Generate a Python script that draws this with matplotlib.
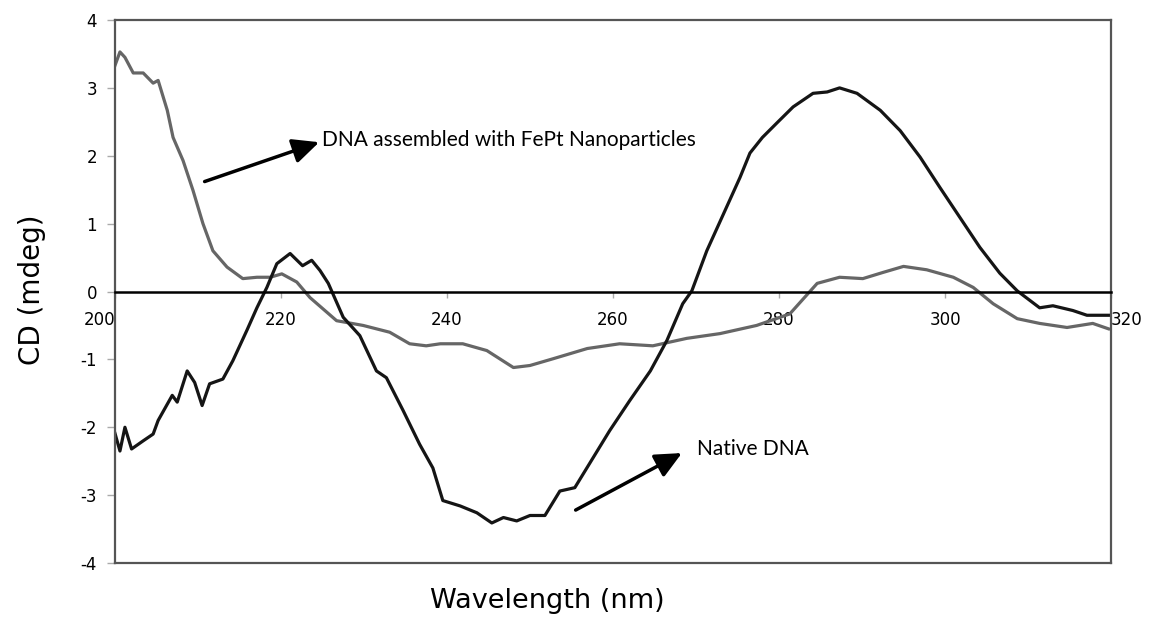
import matplotlib
matplotlib.use("Agg")
import matplotlib.pyplot as plt

plt.rcParams["axes.unicode_minus"] = False

# CD spectra
wl_native = [200.0, 200.6, 201.2, 202.0, 203.4, 204.6, 205.2, 206.9, 207.5, 208.7,
             209.6, 210.5, 211.4, 213.0, 214.2, 215.9, 217.1, 218.3, 219.5, 221.1,
             222.6, 223.7, 224.7, 225.7, 227.5, 229.5, 231.5, 232.7, 234.7, 236.7,
             238.3, 239.5, 241.6, 243.6, 245.4, 246.8, 248.4, 250.0, 251.8, 253.6,
             255.4, 257.6, 259.6, 262.0, 264.5, 266.5, 268.4, 269.5, 271.3, 275.3,
             276.5, 278.0, 279.8, 281.7, 284.1, 285.8, 287.3, 289.4, 292.2, 294.6,
             297.0, 299.4, 301.8, 304.2, 306.6, 308.7, 311.4, 313.0, 315.4, 317.1,
             319.9]
cd_native = [-2.09, -2.35, -2.00, -2.32, -2.20, -2.10, -1.90, -1.53, -1.63, -1.17,
             -1.34, -1.68, -1.36, -1.29, -1.02, -0.57, -0.24, 0.06, 0.41, 0.56,
             0.38, 0.46, 0.31, 0.12, -0.38, -0.65, -1.17, -1.27, -1.75, -2.25,
             -2.60, -3.08, -3.16, -3.26, -3.41, -3.33, -3.38, -3.30, -3.30, -2.94,
             -2.89, -2.45, -2.05, -1.61, -1.17, -0.72, -0.18, 0.01, 0.60, 1.68,
             2.04, 2.27, 2.49, 2.72, 2.92, 2.94, 3.00, 2.92, 2.67, 2.37,
             1.98, 1.53, 1.09, 0.65, 0.27, 0.01, -0.24, -0.21, -0.28, -0.35,
             -0.35]

wl_fept = [200.0, 200.6, 201.2, 202.2, 203.4, 204.6, 205.2, 206.3, 207.0, 208.2,
           209.4, 210.6, 211.8, 213.5, 215.4, 217.1, 218.7, 220.1, 221.9, 223.5,
           226.7, 229.9, 233.1, 235.5, 237.5, 239.2, 241.9, 244.8, 248.0, 250.0,
           252.8, 256.9, 260.8, 264.8, 268.9, 272.9, 277.3, 281.3, 284.6, 287.3,
           290.1, 292.5, 295.0, 297.8, 301.0, 303.4, 305.8, 308.7, 311.4, 314.7,
           317.8, 319.7]
cd_fept = [3.33, 3.53, 3.45, 3.22, 3.22, 3.07, 3.11, 2.67, 2.27, 1.93,
           1.49, 1.00, 0.60, 0.36, 0.19, 0.21, 0.21, 0.26, 0.14, -0.09,
           -0.43, -0.50, -0.60, -0.77, -0.80, -0.77, -0.77, -0.87, -1.12, -1.09,
           -0.99, -0.84, -0.77, -0.80, -0.69, -0.62, -0.50, -0.33, 0.12, 0.21,
           0.19, 0.28, 0.37, 0.32, 0.21, 0.06, -0.18, -0.40, -0.47, -0.53,
           -0.47, -0.55]

x_ticks = [200, 220, 240, 260, 280, 300, 320]
y_ticks = [-4, -3, -2, -1, 0, 1, 2, 3, 4]

fig = plt.figure(figsize=(11.59, 6.18), dpi=100)
ax = fig.add_axes([0.0992, 0.089, 0.8594, 0.8786])

ax.plot(wl_fept, cd_fept, color="#666666", lw=2.3)
ax.plot(wl_native, cd_native, color="#151515", lw=2.3)

ax.set_xlim(200, 320)
ax.set_ylim(-4, 4)

# x axis sits on the zero line, box drawn around the plot
for side in ["left", "top", "right"]:
    ax.spines[side].set_color("#555555")
    ax.spines[side].set_linewidth(1.6)
ax.spines["bottom"].set_position(("data", 0))
ax.spines["bottom"].set_color("black")
ax.spines["bottom"].set_linewidth(1.8)
ax.plot([0, 1], [0, 0], transform=ax.transAxes, color="#555555", lw=1.6,
        clip_on=False)

ax.set_xticks(x_ticks)
ax.set_yticks(y_ticks)
ax.tick_params(axis="x", direction="out", length=4, width=1, color="#aaaaaa",
               pad=10, labelsize=12)
ax.tick_params(axis="y", direction="out", length=6, width=1, color="#aaaaaa",
               pad=7, labelsize=12)
xlabels = ax.get_xticklabels()
xlabels[0].set_ha("right")
xlabels[-1].set_ha("left")

fig.text(32 / 1159, 1 - 290 / 618, "CD (mdeg)", rotation=90, fontsize=20,
         ha="center", va="center")
fig.text(547 / 1159, 1 - 601 / 618, "Wavelength (nm)", fontsize=19.5,
         ha="center", va="center")

arrow = dict(arrowstyle="-|>,head_length=1.6,head_width=0.75", color="black",
             lw=2.5, shrinkA=0, shrinkB=0)
ax.annotate("", xy=(224.6, 2.2), xytext=(210.8, 1.62), arrowprops=arrow)
ax.annotate("", xy=(268.3, -2.38), xytext=(255.5, -3.22), arrowprops=arrow)
ax.text(224.9, 2.23, "DNA assembled with FePt Nanoparticles", fontsize=15,
        family="Lato", ha="left", va="center")
ax.text(270.1, -2.32, "Native DNA", fontsize=15, family="Lato",
        ha="left", va="center")

fig.savefig("out.png", dpi=100)
